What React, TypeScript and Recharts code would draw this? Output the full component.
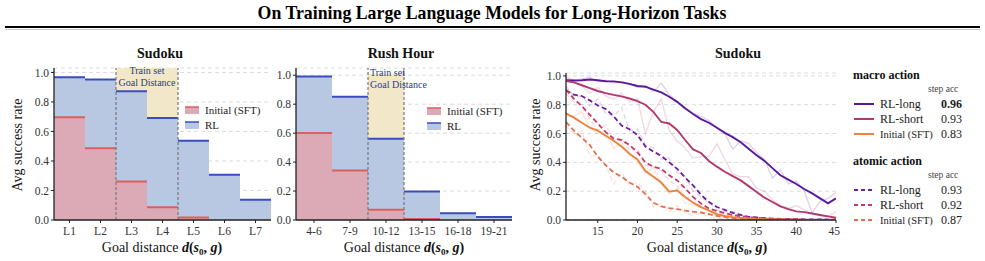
import React from "react";
import {
  BarChart,
  Bar,
  LineChart,
  Line,
  XAxis,
  YAxis,
  CartesianGrid,
  ReferenceArea,
  ReferenceLine,
} from "recharts";

const SERIF = "'Liberation Serif', 'Times New Roman', serif";

// left panel: Sudoku by level
const sudokuLevels = ["L1", "L2", "L3", "L4", "L5", "L6", "L7"];
const sudokuSft = [0.7, 0.49, 0.265, 0.09, 0.02, 0, 0];
const sudokuRl = [0.97, 0.955, 0.875, 0.695, 0.54, 0.31, 0.14];

// middle panel: Rush Hour by distance bin
const rushBins = ["4-6", "7-9", "10-12", "13-15", "16-18", "19-21"];
const rushSft = [0.605, 0.345, 0.075, 0.01, 0, 0];
const rushRl = [0.995, 0.855, 0.565, 0.2, 0.05, 0.025];

const yTicks = [0, 0.2, 0.4, 0.6, 0.8, 1.0];

// right panel: Sudoku success vs goal distance
const distances = [
  11, 12, 13, 14, 15, 16, 17, 18, 19, 20, 21, 22, 23, 24, 25, 26, 27, 28,
  29, 30, 31, 32, 33, 34, 35, 36, 37, 38, 39, 40, 41, 42, 43, 44, 45,
];
const xTicks = [15, 20, 25, 30, 35, 40, 45];

const macroLong = [
  0.97, 0.968, 0.97, 0.975, 0.97, 0.963, 0.962, 0.955, 0.945, 0.93, 0.925,
  0.905, 0.885, 0.855, 0.82, 0.775, 0.735, 0.7, 0.675, 0.64, 0.605, 0.575,
  0.54, 0.495, 0.45, 0.41, 0.36, 0.31, 0.28, 0.25, 0.215, 0.185, 0.15, 0.115,
  0.15,
];
const macroShort = [
  0.965, 0.955, 0.935, 0.915, 0.895, 0.88, 0.868, 0.858, 0.843, 0.825, 0.8,
  0.75, 0.68, 0.67, 0.625, 0.555, 0.49, 0.465, 0.41, 0.37, 0.335, 0.305,
  0.275, 0.235, 0.195, 0.155, 0.125, 0.095, 0.075, 0.06, 0.055, 0.045, 0.035,
  0.025, 0.015,
];
const macroSft = [
  0.74, 0.71, 0.675, 0.64, 0.62, 0.585, 0.55, 0.51, 0.46, 0.42, 0.34, 0.3,
  0.26, 0.197, 0.205, 0.16, 0.12, 0.09, 0.065, 0.04, 0.028, 0.02, 0.015, 0.01,
  0.007, 0.005, 0.004, 0.003, 0.002, 0.002, 0.001, 0.001, 0.001, 0.001, 0.001,
];
const atomicLong = [
  0.9, 0.87, 0.86, 0.83, 0.795, 0.77, 0.72, 0.655, 0.63, 0.59, 0.51, 0.475,
  0.445, 0.4, 0.355, 0.295, 0.24, 0.175, 0.125, 0.09, 0.07, 0.05, 0.035,
  0.022, 0.018, 0.013, 0.01, 0.008, 0.007, 0.006, 0.005, 0.004, 0.004, 0.003,
  0.003,
];
const atomicShort = [
  0.905, 0.84, 0.79, 0.73, 0.67, 0.61, 0.565, 0.555, 0.52, 0.47, 0.4, 0.37,
  0.355, 0.31, 0.275, 0.22, 0.16, 0.115, 0.08, 0.062, 0.048, 0.035, 0.027,
  0.02, 0.015, 0.011, 0.008, 0.006, 0.005, 0.004, 0.003, 0.003, 0.002, 0.002,
  0.002,
];
const atomicSft = [
  0.68, 0.62, 0.57, 0.52, 0.44, 0.38, 0.33, 0.3, 0.26, 0.23, 0.18, 0.12,
  0.095, 0.082, 0.075, 0.065, 0.058, 0.052, 0.04, 0.028, 0.02, 0.014, 0.01,
  0.007, 0.005, 0.004, 0.003, 0.003, 0.002, 0.002, 0.001, 0.001, 0.001, 0.001,
  0.001,
];

// unsmoothed runs, drawn faint behind
const macroLongRaw = [
  0.99, 0.97, 0.98, 0.99, 0.96, 0.97, 0.95, 0.96, 0.94, 0.92, 0.93, 0.89,
  0.95, 0.87, 0.82, 0.77, 0.74, 0.72, 0.69, 0.64, 0.6, 0.49, 0.55, 0.53, 0.47,
  0.42, 0.29, 0.35, 0.25, 0.27, 0.2, 0.05, 0.13, 0.15, 0.19,
];
const macroShortRaw = [
  0.98, 0.96, 0.93, 0.88, 0.92, 0.86, 0.84, 0.88, 0.82, 0.84, 0.6, 0.75,
  0.84, 0.62, 0.55, 0.5, 0.43, 0.44, 0.44, 0.53, 0.42, 0.32, 0.3, 0.3, 0.22,
  0.2, 0.14, 0.1, 0.08, 0.1, 0.07, 0.04, 0.03, 0.02, 0.06,
];
const macroSftRaw = [
  0.72, 0.72, 0.75, 0.64, 0.6, 0.62, 0.5, 0.54, 0.45, 0.4, 0.33, 0.36, 0.25,
  0.18, 0.22, 0.12, 0.1, 0.09, 0.07, 0.03, 0.02, 0.03, 0.01, 0.01, 0, 0, 0,
  0, 0, 0, 0, 0, 0, 0, 0,
];
const atomicLongRaw = [
  0.93, 0.86, 0.86, 0.79, 0.84, 0.74, 0.72, 0.78, 0.62, 0.63, 0.52, 0.5,
  0.42, 0.43, 0.33, 0.3, 0.2, 0.16, 0.12, 0.07, 0.06, 0.06, 0.03, 0.02, 0.01,
  0.01, 0.01, 0, 0, 0, 0, 0, 0, 0, 0,
];
const atomicShortRaw = [
  0.88, 0.82, 0.8, 0.7, 0.62, 0.66, 0.55, 0.57, 0.48, 0.5, 0.38, 0.37, 0.34,
  0.27, 0.24, 0.15, 0.16, 0.09, 0.08, 0.05, 0.04, 0.03, 0.02, 0.01, 0.01, 0,
  0, 0, 0, 0, 0, 0, 0, 0, 0,
];
const atomicSftRaw = [
  0.66, 0.6, 0.62, 0.44, 0.45, 0.38, 0.25, 0.33, 0.24, 0.26, 0.2, 0.09, 0.12,
  0.06, 0.1, 0.05, 0.03, 0.05, 0.02, 0.01, 0.01, 0, 0, 0, 0, 0, 0, 0, 0, 0, 0,
  0, 0, 0, 0,
];

const seriesNames = ["RL-long", "RL-short", "Initial (SFT)"];
const macroAcc = ["0.96", "0.93", "0.83"];
const atomicAcc = ["0.93", "0.92", "0.87"];
const macroColors = ["#5a189a", "#b3386f", "#e8843f"];
const atomicColors = ["#6c1f9e", "#c63a6a", "#e2704f"];

const SFT_FILL = "#dcaab6";
const SFT_EDGE = "#d9605e";
const RL_FILL = "#b9c8e2";
const RL_EDGE = "#3b4cc0";

const tickStyle = { fontSize: 11.5, fill: "#333", fontFamily: SERIF };

const edgeBar = (fill: string, edge: string) => (props: any) => {
  const { x, y, width, height } = props;
  if (!height || height <= 0) return <g />;
  return (
    <g>
      <rect x={x} y={y} width={width} height={height} fill={fill} />
      <line x1={x} x2={x + width} y1={y + 0.5} y2={y + 0.5} stroke={edge} strokeWidth={2} />
    </g>
  );
};

function BarPanel(props: {
  cats: string[];
  sft: number[];
  rl: number[];
  left: number;
  width: number;
  yWidth: number;
  right: number;
  yMax: number;
  trainFrom: string;
  trainTo: string;
  trainTop: number;
}) {
  const rows = props.cats.map((c, i) => ({ cat: c, sft: props.sft[i], rl: props.rl[i] }));
  return (
    <div style={{ position: "absolute", left: props.left, top: 0 }}>
      <BarChart
        width={props.width}
        height={261}
        data={rows}
        margin={{ top: 68, right: props.right, left: 0, bottom: 0 }}
        barCategoryGap={0}
        barGap="-100%"
      >
        <ReferenceArea
          x1={props.trainFrom}
          x2={props.trainTo}
          y1={0}
          y2={props.trainTop}
          fill="#f2e8c9"
          fillOpacity={1}
          stroke="none"
        />
        <CartesianGrid vertical={false} stroke="#dcdcdc" strokeDasharray="4 3" />
        <XAxis
          dataKey="cat"
          interval={0}
          height={41}
          tickSize={3}
          tickMargin={4}
          tick={tickStyle}
          axisLine={{ stroke: "#222", strokeWidth: 1.3 }}
          tickLine={{ stroke: "#222" }}
        />
        <YAxis
          domain={[0, props.yMax]}
          ticks={yTicks}
          width={props.yWidth}
          allowDataOverflow
          tickFormatter={(v: number) => v.toFixed(1)}
          tickSize={3}
          tickMargin={2}
          tick={tickStyle}
          axisLine={{ stroke: "#222", strokeWidth: 1.3 }}
          tickLine={{ stroke: "#222" }}
        />
        <Bar dataKey="rl" isAnimationActive={false} shape={edgeBar(RL_FILL, RL_EDGE)} />
        <Bar dataKey="sft" isAnimationActive={false} shape={edgeBar(SFT_FILL, SFT_EDGE)} />
        <ReferenceLine x={props.trainFrom} position="start" stroke="#777" strokeDasharray="3 2" strokeWidth={1.2} />
        <ReferenceLine x={props.trainTo} position="end" stroke="#777" strokeDasharray="3 2" strokeWidth={1.2} />
      </BarChart>
    </div>
  );
}

function SudokuLines() {
  const rows = distances.map((d, i) => ({
    d,
    ml: macroLong[i],
    ms: macroShort[i],
    mi: macroSft[i],
    al: atomicLong[i],
    as: atomicShort[i],
    ai: atomicSft[i],
    mlr: macroLongRaw[i],
    msr: macroShortRaw[i],
    mir: macroSftRaw[i],
    alr: atomicLongRaw[i],
    asr: atomicShortRaw[i],
    air: atomicSftRaw[i],
  }));
  const macroKeys = ["ml", "ms", "mi"];
  const atomicKeys = ["al", "as", "ai"];
  return (
    <div style={{ position: "absolute", left: 500, top: 0 }}>
      <LineChart
        width={340}
        height={261}
        data={rows}
        margin={{ top: 73, right: 4, left: 0, bottom: 0 }}
      >
        <CartesianGrid vertical={false} stroke="#dcdcdc" strokeDasharray="4 3" />
        <XAxis
          dataKey="d"
          type="number"
          domain={[11, 45]}
          ticks={xTicks}
          allowDataOverflow
          height={41}
          tickSize={3}
          tickMargin={4}
          tick={tickStyle}
          axisLine={{ stroke: "#222", strokeWidth: 1.3 }}
          tickLine={{ stroke: "#222" }}
        />
        <YAxis
          domain={[0, 1.02]}
          ticks={yTicks}
          width={66}
          allowDataOverflow
          tickFormatter={(v: number) => v.toFixed(1)}
          tickSize={3}
          tickMargin={2}
          tick={tickStyle}
          axisLine={{ stroke: "#222", strokeWidth: 1.3 }}
          tickLine={{ stroke: "#222" }}
        />
        {macroKeys.map((k, i) => (
          <Line key={k + "r"} dataKey={k + "r"} stroke={macroColors[i]} strokeOpacity={0.2} strokeWidth={1.3} dot={false} isAnimationActive={false} />
        ))}
        {atomicKeys.map((k, i) => (
          <Line key={k + "r"} dataKey={k + "r"} stroke={atomicColors[i]} strokeOpacity={0.2} strokeWidth={1.3} strokeDasharray="5 3" dot={false} isAnimationActive={false} />
        ))}
        {atomicKeys.map((k, i) => (
          <Line key={k} dataKey={k} stroke={atomicColors[i]} strokeWidth={1.8} strokeDasharray="5 3" dot={false} isAnimationActive={false} />
        ))}
        {macroKeys.map((k, i) => (
          <Line key={k} dataKey={k} stroke={macroColors[i]} strokeWidth={1.9} dot={false} isAnimationActive={false} />
        ))}
      </LineChart>
    </div>
  );
}

const GoalLabel = ({ x, y }: { x: number; y: number }) => (
  <text x={x} y={y} textAnchor="middle" fontSize={14} fontFamily={SERIF} fill="#111">
    {"Goal distance "}
    <tspan fontWeight="bold" fontStyle="italic">d</tspan>
    <tspan fontWeight="bold">(</tspan>
    <tspan fontWeight="bold" fontStyle="italic">s</tspan>
    <tspan fontWeight="bold" fontSize={9} dy={3}>0</tspan>
    <tspan fontWeight="bold" dy={-3}>{", "}</tspan>
    <tspan fontWeight="bold" fontStyle="italic">g</tspan>
    <tspan fontWeight="bold">)</tspan>
  </text>
);

const YLabel = ({ x, y }: { x: number; y: number }) => (
  <text x={x} y={y} transform={`rotate(-90 ${x} ${y})`} textAnchor="middle" fontSize={14} fontFamily={SERIF} fill="#111">
    Avg success rate
  </text>
);

const BarLegend = ({ x, y }: { x: number; y: number }) => (
  <g fontFamily={SERIF} fontSize={11} fill="#222">
    <rect x={x} y={y - 3} width={14} height={7} fill={SFT_FILL} />
    <line x1={x} x2={x + 14} y1={y - 3} y2={y - 3} stroke={SFT_EDGE} strokeWidth={1.5} />
    <text x={x + 20} y={y + 4}>Initial (SFT)</text>
    <rect x={x} y={y + 12} width={14} height={7} fill={RL_FILL} />
    <line x1={x} x2={x + 14} y1={y + 12} y2={y + 12} stroke={RL_EDGE} strokeWidth={1.5} />
    <text x={x + 20} y={y + 19}>RL</text>
  </g>
);

const TrainText = ({ x, y, anchor }: { x: number; y: number; anchor: "middle" | "start" }) => (
  <text x={x} y={y} textAnchor={anchor} fontFamily={SERIF} fontSize={10} fill="#2b3990">
    <tspan x={x}>Train set</tspan>
    <tspan x={x} dy={12}>Goal Distance</tspan>
  </text>
);

function LineLegendBlock(props: { y: number; heading: string; acc: string[]; colors: string[]; dashed: boolean }) {
  const { y } = props;
  return (
    <g fontFamily={SERIF} fill="#222">
      <text x={853} y={y} fontSize={12} fontWeight="bold" fill="#111">{props.heading}</text>
      <text x={928} y={y + 13} fontSize={9.5} fill="#444">step acc</text>
      {seriesNames.map((name, i) => {
        const cy = y + 25 + i * 15;
        return (
          <g key={name}>
            <line
              x1={854}
              x2={874}
              y1={cy}
              y2={cy}
              stroke={props.colors[i]}
              strokeWidth={2}
              strokeDasharray={props.dashed ? "4 3" : undefined}
            />
            <text x={880} y={cy + 4} fontSize={i === 2 ? 10.5 : 12}>{name}</text>
            <text
              x={941}
              y={cy + 4}
              fontSize={12}
              fontWeight={!props.dashed && i === 0 ? "bold" : "normal"}
            >
              {props.acc[i]}
            </text>
          </g>
        );
      })}
    </g>
  );
}

export default function App() {
  return (
    <div style={{ position: "absolute", left: 0, top: 0, width: 985, height: 261, background: "#fff", overflow: "hidden" }}>
      <BarPanel
        cats={sudokuLevels}
        sft={sudokuSft}
        rl={sudokuRl}
        left={0}
        width={280}
        yWidth={54}
        right={9}
        yMax={1.03}
        trainFrom="L3"
        trainTo="L4"
        trainTop={1.03}
      />
      <BarPanel
        cats={rushBins}
        sft={rushSft}
        rl={rushRl}
        left={240}
        width={280}
        yWidth={56}
        right={8}
        yMax={1.05}
        trainFrom="10-12"
        trainTo="10-12"
        trainTop={1.01}
      />
      <SudokuLines />
      <svg width={985} height={261} style={{ position: "absolute", left: 0, top: 0, pointerEvents: "none" }}>
        <text x={492} y={19} textAnchor="middle" fontFamily={SERIF} fontWeight="bold" fontSize={17.8} fill="#000">
          On Training Large Language Models for Long-Horizon Tasks
        </text>
        <line x1={5} x2={980} y1={27} y2={27} stroke="#000" strokeWidth={2} />
        <line x1={5} x2={980} y1={29.5} y2={29.5} stroke="#bbb" strokeWidth={0.8} />

        <g fontFamily={SERIF} fontWeight="bold" fontSize={14} fill="#111" textAnchor="middle">
          <text x={160} y={58}>Sudoku</text>
          <text x={401} y={58}>Rush Hour</text>
          <text x={738} y={58}>Sudoku</text>
        </g>

        <YLabel x={22} y={145} />
        <YLabel x={540} y={145} />
        <GoalLabel x={162} y={252} />
        <GoalLabel x={404} y={252} />
        <GoalLabel x={707} y={252} />

        <TrainText x={147} y={74} anchor="middle" />
        <TrainText x={370} y={76} anchor="start" />

        <BarLegend x={185} y={110} />
        <BarLegend x={427} y={111} />

        <LineLegendBlock y={79} heading="macro action" acc={macroAcc} colors={macroColors} dashed={false} />
        <LineLegendBlock y={165} heading="atomic action" acc={atomicAcc} colors={atomicColors} dashed={true} />
      </svg>
    </div>
  );
}
